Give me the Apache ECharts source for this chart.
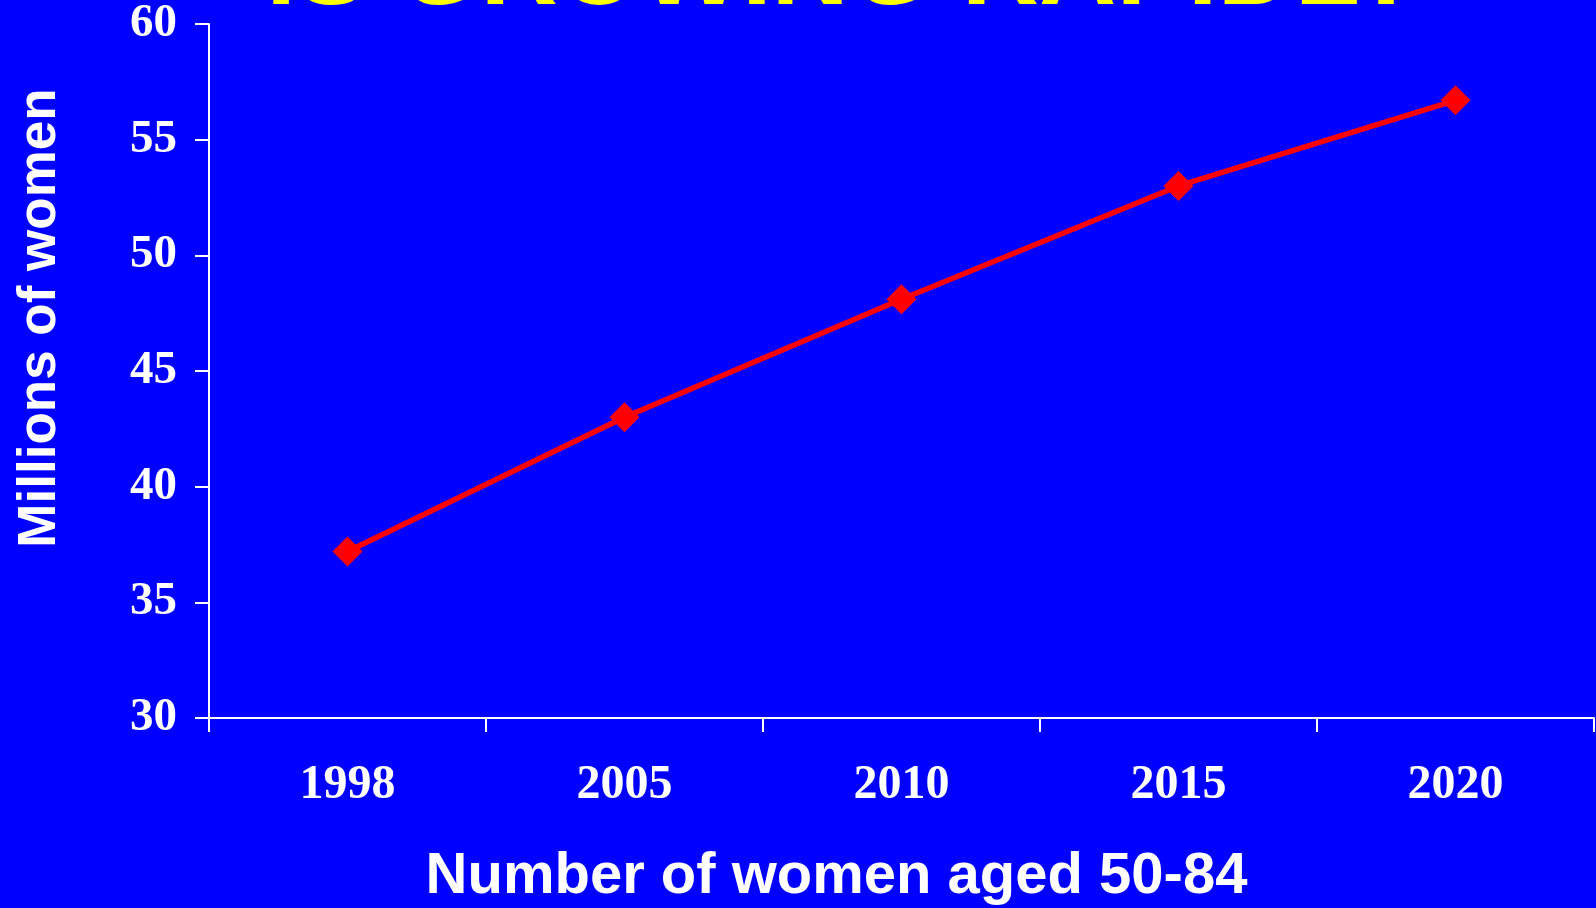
<!DOCTYPE html>
<html>
<head>
<meta charset="utf-8">
<style>
  html, body { margin: 0; padding: 0; background: #0000ff; }
  #chart { width: 1596px; height: 908px; }
</style>
<script src="https://cdn.jsdelivr.net/npm/echarts@6/dist/echarts.min.js"></script>
</head>
<body>
<div id="chart"></div>
<script>
// Projected number of women aged 50-84 (millions)
const years = ['1998', '2005', '2010', '2015', '2020'];
const womenMillions = [37.2, 43.0, 48.1, 53.0, 56.7];
const yTicks = { min: 30, max: 60, step: 5 };
const headline = 'IS GROWING RAPIDLY';
const xTitle = 'Number of women aged 50-84';
const yTitle = 'Millions of women';

const chart = echarts.init(document.getElementById('chart'), null, { renderer: 'canvas' });

const white = '#ffffff';
const serif = '"Liberation Serif", "Times New Roman", serif';
const sans = '"Liberation Sans", Arial, sans-serif';

chart.setOption({
  backgroundColor: '#0000ff',
  animation: false,
  grid: {
    left: 209, right: 2, top: 24, bottom: 190,
    containLabel: false,
    outerBoundsMode: 'none'
  },
  graphic: {
    elements: [{
      // headline runs off the top edge of the slide
      type: 'text',
      x: 844,
      y: -26,
      z: 100,
      style: {
        text: headline,
        fill: '#ffff00',
        fontFamily: sans,
        fontWeight: 'bold',
        fontSize: 107,
        align: 'center',
        verticalAlign: 'middle',
        textAlign: 'center',
        textVerticalAlign: 'middle'
      }
    }]
  },
  xAxis: {
    type: 'category',
    data: years,
    boundaryGap: true,
    name: xTitle,
    nameLocation: 'middle',
    nameGap: 130,
    nameTextStyle: {
      color: white, fontFamily: sans, fontWeight: 'bold', fontSize: 58,
      padding: [0, 130, 0, 0]
    },
    axisLine: { show: true, lineStyle: { color: white, width: 2 } },
    axisTick: { show: true, length: 14, lineStyle: { color: white, width: 2 } },
    axisLabel: {
      color: white, fontFamily: serif, fontWeight: 'bold', fontSize: 48, margin: 44
    },
    splitLine: { show: false }
  },
  yAxis: {
    type: 'value',
    min: yTicks.min,
    max: yTicks.max,
    interval: yTicks.step,
    name: yTitle,
    nameLocation: 'middle',
    nameRotate: 90,
    nameGap: 142,
    nameTextStyle: {
      color: white, fontFamily: sans, fontWeight: 'bold', fontSize: 53,
      padding: [0, 0, 0, 106]
    },
    axisLine: { show: true, lineStyle: { color: white, width: 2 } },
    axisTick: { show: true, length: 14, lineStyle: { color: white, width: 2 } },
    axisLabel: {
      color: white, fontFamily: serif, fontWeight: 'bold', fontSize: 47, margin: 32
    },
    splitLine: { show: false }
  },
  series: [{
    type: 'line',
    data: womenMillions,
    symbol: 'diamond',
    symbolSize: 30,
    showAllSymbol: true,
    lineStyle: { color: '#ff0000', width: 5.5 },
    itemStyle: { color: '#ff0000', borderWidth: 0 },
    emphasis: { disabled: true }
  }]
});
</script>
</body>
</html>
